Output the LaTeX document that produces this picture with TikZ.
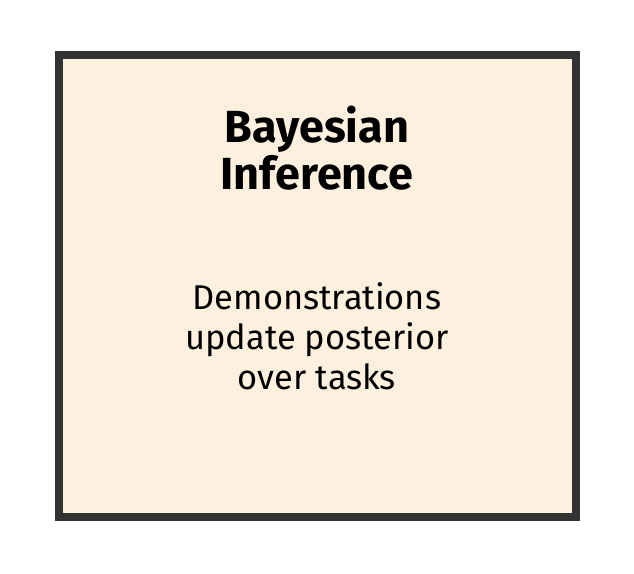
\documentclass[tikz,border=0pt]{standalone}
\usepackage{fontspec}
\setmainfont{Fira Sans}
\usepackage{tikz}
\definecolor{boxfill}{HTML}{FEF0DF}
\definecolor{boxline}{HTML}{333333}
\tikzstyle{panel} = [draw=boxline, fill=boxfill, line width=4pt]
\tikzstyle{title} = [align=center, font=\fontsize{22.5}{23.5}\selectfont\bfseries]
\tikzstyle{body} = [align=center, font=\fontsize{17.2}{20}\selectfont]

\begin{document}
\begin{tikzpicture}[x=1pt,y=1pt]
	\useasboundingbox (0,0) rectangle (317,-287);
	\draw[panel] (29.5,-27.5) rectangle (288,-258.5);
	\node[title] (head) at (158.5,-74) {Bayesian\\Inference};
	\node[body] (text) at (158.5,-168) {Demonstrations\\update posterior\\over tasks};
\end{tikzpicture}
\end{document}
